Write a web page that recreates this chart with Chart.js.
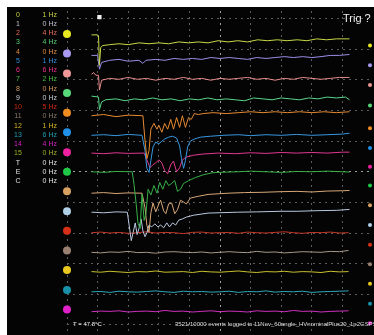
<!DOCTYPE html>
<html>
<head>
<meta charset="utf-8">
<script src="https://cdn.jsdelivr.net/npm/chart.js@4.4.0/dist/chart.umd.min.js"></script>
<style>
  body { margin: 0; background: #fff; width: 374px; height: 335px; overflow: hidden; position: relative;
         font-family: "Liberation Sans", Arial, sans-serif; }
  #scope { position: absolute; left: 7px; top: 7px; width: 367px; height: 328px; background: #040404; overflow: hidden; }
  #scope canvas { position: absolute; left: 0; top: 0; }
  .lbl { position: absolute; font-size: 7px; line-height: 8px; white-space: nowrap; }
  .num { left: 4px; width: 14px; text-align: center; }
  .hz { left: 30px; width: 20px; text-align: right; }
  #trig { position: absolute; left: 336px; top: 5px; color: #eee; font-size: 11px; }
  #temp { position: absolute; left: 66px; top: 314px; color: #eee; font-size: 6px; }
  #status { position: absolute; left: 168px; top: 314px; color: #ddd; font-size: 6px; white-space: nowrap; }
</style>
</head>
<body>
<div id="scope">
  <canvas id="scopeChart" width="367" height="328"></canvas>
  <div id="trig">Trig ?</div>
  <div id="temp">T = 47.8°C</div>
  <div id="status">3521/10000 events logged to 11Nov_60angle_HVnominalPlus20_1p2GSPS_10k</div>
</div>
<script>
// channel list on the left
const chanNames = ["0","1","2","3","4","5","6","7","8","9","10","11","12","13","14","15","T","E","C"];
const chanHz = ["1 Hz","0 Hz","4 Hz","4 Hz","0 Hz","1 Hz","6 Hz","2 Hz","0 Hz","0 Hz","5 Hz","0 Hz","1 Hz","6 Hz","4 Hz","0 Hz","0 Hz","0 Hz","0 Hz"];
const chanLabelColors = ["#c8d040","#c0c0cc","#e86a58","#50d070","#e08a40","#3090e0","#f03090","#40c040","#d09a60","#c8d0d8",
                         "#d02818","#8a7a6a","#d8b820","#20a0b0","#d020c0","#a0b020","#e0e0e0","#e0e0e0","#e0e0e0"];

// channel offsets on screen (mV, 100 mV per division)
const offsets = [450, 386, 321, 257, 193, 129, 64, 0, -64, -129, -193, -257, -321, -386, -450];
const traceColors = ["#c8d848","#9a90e8","#e88a8a","#58d888","#e88a30","#3898e0","#e03890","#38b048","#d8a878","#b8c8e0",
                     "#c83828","#a89888","#c8c030","#30a8b8","#d030c0"];
const circleColors = ["#e8e820","#a898f0","#f09898","#58d878","#f08c20","#2090e8","#f020a0","#20c848","#d8a060","#b0d0e8",
                      "#d83018","#9a8070","#e8c820","#1890a8","#e020c8"];
const levelMarks = [-38, -38, -38, -41, -51, -51, -48, -45, -45, -45, -45, -45, -45, -45, -45];

// grid divisions
const xTicks = [0, 100, 200, 300, 400, 500, 600, 700, 800, 900];
const yTicks = [-500, -400, -300, -200, -100, 0, 100, 200, 300, 400, 500];

// waveforms: [time ns, mV relative to channel offset]
const ch0 = [[80,-3],[100,-3],[103,-6],[106,-102],[110,-45],[116,-38],[139,-35],[170,-32],[200,-35],[235,-29],[268,-32],[300,-29],
  [332,-32],[365,-26],[397,-29],[429,-26],[461,-29],[494,-22],[526,-26],[558,-22],[590,-26],[623,-19],[655,-22],[687,-19],
  [719,-22],[752,-19],[784,-22],[816,-16],[848,-19],[881,-16],[923,-16]];
const ch1 = [[80,-6],[100,-6],[106,-51],[113,-29],[139,-22],[170,-19],[200,-25],[235,-22],[248,-32],[258,-22],[290,-19],[320,-22],
  [350,-16],[380,-19],[410,-16],[440,-19],[470,-13],[500,-16],[530,-13],[560,-16],[590,-19],[620,-13],[650,-16],[680,-13],
  [710,-10],[740,-13],[770,-10],[800,-13],[830,-10],[860,-6],[890,-6],[923,-3]];
const ch2 = [[80,-3],[87,3],[94,-6],[103,-6],[106,-54],[113,-22],[139,-16],[170,-19],[200,-13],[230,-19],[260,-16],[290,-22],
  [320,-16],[350,-19],[380,-13],[410,-19],[440,-16],[470,-22],[500,-16],[530,-19],[560,-16],[590,-13],[620,-19],[650,-16],
  [680,-22],[710,-16],[740,-19],[770,-13],[800,-16],[830,-19],[860,-16],[890,-13],[923,-13]];
const ch3 = [[80,-10],[103,-13],[106,-54],[113,-29],[126,-22],[160,-19],[190,-25],[220,-19],[250,-22],[280,-16],[310,-22],
  [340,-19],[370,-25],[400,-19],[430,-22],[460,-16],[490,-22],[520,-19],[550,-22],[580,-25],[610,-16],[640,-19],[670,-22],
  [700,-16],[730,-19],[760,-22],[790,-16],[820,-19],[850,-13],[880,-16],[910,-13],[923,-22]];
const ch4 = [[80,-10],[120,-6],[160,-13],[200,-8],[248,-10],[255,-92],[261,-150],[268,-124],[274,-54],[284,-35],[294,-54],
  [300,-41],[310,-64],[319,-35],[329,-54],[339,-22],[348,-54],[358,-16],[368,-48],[377,-10],[387,-48],[397,-16],[406,-22],
  [416,-3],[429,-6],[445,-3],[477,0],[520,-3],[560,0],[600,3],[640,0],[680,3],[720,0],[760,3],[800,0],[840,3],[880,0],[923,3]];
const ch5 = [[80,-10],[120,-8],[160,-11],[200,-7],[245,-10],[255,-60],[261,-118],[268,-131],[274,-92],[281,-48],[290,-32],
  [300,-38],[310,-29],[319,-22],[332,-16],[345,-13],[358,-19],[368,-45],[374,-86],[381,-118],[387,-92],[394,-48],[403,-29],
  [416,-22],[436,-16],[468,-13],[510,-10],[560,-8],[600,-11],[650,-8],[700,-10],[750,-7],[800,-10],[850,-8],[900,-6],[923,-3]];
const ch6 = [[80,-3],[120,-5],[160,-2],[200,-4],[252,-3],[261,-25],[271,-51],[281,-41],[290,-35],[300,-25],[310,-35],[319,-60],
  [329,-70],[339,-41],[348,-29],[358,-64],[368,-51],[377,-25],[390,-16],[413,-10],[445,-6],[494,-3],[550,-5],[600,-2],
  [650,-4],[700,-1],[750,-3],[800,-1],[850,-3],[900,0],[923,0]];
const ch7 = [[80,0],[120,-2],[160,1],[213,0],[219,-41],[226,-105],[232,-169],[239,-185],[245,-73],[252,-159],[258,-137],
  [265,-57],[274,-76],[284,-45],[294,-70],[303,-35],[313,-57],[323,-29],[332,-45],[342,-38],[352,-29],[361,-64],[371,-57],
  [381,-38],[397,-29],[419,-19],[445,-10],[477,-3],[520,-1],[558,0],[600,2],[650,0],[700,-2],[750,1],[800,0],[850,2],[900,0],[923,-1]];
const ch8 = [[80,-6],[120,-4],[160,-7],[200,-5],[245,-6],[255,-54],[261,-111],[268,-134],[274,-70],[281,-38],[290,-67],
  [300,-41],[306,-29],[316,-64],[323,-73],[332,-41],[342,-38],[352,-73],[361,-60],[371,-29],[381,-35],[390,-41],[403,-22],
  [429,-16],[461,-10],[526,-6],[580,-4],[640,-3],[700,-1],[752,0],[800,-2],[850,1],[900,2],[923,3]];
const ch9 = [[80,-3],[120,-5],[160,-2],[197,-3],[203,-45],[210,-96],[216,-70],[223,-38],[229,-76],[235,-57],[242,-25],
  [248,-64],[255,-83],[261,-70],[268,-45],[277,-51],[287,-41],[297,-51],[306,-45],[316,-54],[326,-38],[335,-51],[345,-38],
  [355,-45],[365,-29],[377,-25],[390,-19],[413,-13],[461,-6],[558,-3],[620,-2],[700,0],[752,0],[820,2],[880,3],[923,6]];

// quiet channels share one time grid
const tGrid = [80,110,140,170,200,230,260,290,320,350,380,410,440,470,500,530,560,590,620,650,680,710,740,770,800,830,860,890,920];
const ch10 = [-6,-4,-7,-5,-8,-6,-3,-7,-5,-6,-9,-5,-4,-7,-6,-5,-8,-4,-6,-7,-5,-3,-6,-8,-5,-6,-4,-7,-6];
const ch11 = [-6,-8,-5,-6,-3,-7,-6,-9,-5,-4,-6,-7,-5,-8,-6,-4,-6,-7,-3,-6,-5,-8,-6,-4,-5,-6,-3,-4,0];
const ch12 = [-5,-7,-4,-6,-8,-5,-6,-3,-7,-6,-5,-8,-4,-6,-7,-5,-3,-6,-8,-5,-6,-4,-7,-5,-6,-8,-4,-6,-5];
const ch13 = [-6,-5,-8,-4,-6,-7,-5,-3,-6,-8,-4,-6,-5,-7,-6,-4,-8,-5,-6,-3,-7,-5,-6,-4,-8,-6,-5,-4,-3];
const ch14 = [-7,-5,-6,-4,-8,-6,-5,-7,-3,-6,-5,-8,-6,-4,-7,-5,-6,-8,-4,-6,-5,-7,-3,-6,-5,-8,-6,-5,-4];

const trigTime = 106;   // ns
const trigMarkY = 505;  // mV, top of screen

// left panel labels
const scope = document.getElementById("scope");
chanNames.forEach((name, i) => {
  const top = 3.5 + i * 9.26;
  const n = document.createElement("div");
  n.className = "lbl num";
  n.style.top = top + "px";
  n.style.color = chanLabelColors[i];
  n.textContent = name;
  scope.appendChild(n);
  const h = document.createElement("div");
  h.className = "lbl hz";
  h.style.top = top + "px";
  h.style.color = chanLabelColors[i];
  h.textContent = chanHz[i];
  scope.appendChild(h);
});

const pairTraces = [ch0, ch1, ch2, ch3, ch4, ch5, ch6, ch7, ch8, ch9];
const gridTraces = [ch10, ch11, ch12, ch13, ch14].map(vals => tGrid.map((t, k) => [t, vals[k]]));
const allTraces = pairTraces.concat(gridTraces);

const datasets = allTraces.map((pts, i) => ({
  data: pts.map(p => ({ x: p[0], y: offsets[i] + p[1] })),
  borderColor: traceColors[i],
  borderWidth: 1,
  pointRadius: 0,
  tension: 0,
  order: 1
}));

// channel circles on the left axis
datasets.push({
  data: offsets.map(o => ({ x: 0, y: o })),
  showLine: false,
  pointRadius: 4,
  pointBorderWidth: 0,
  pointBackgroundColor: circleColors,
  clip: false,
  order: 0
});
// level marks on the right edge
datasets.push({
  data: offsets.map((o, i) => ({ x: 990, y: o + levelMarks[i] })),
  showLine: false,
  pointRadius: 2,
  pointBorderWidth: 0,
  pointBackgroundColor: circleColors,
  clip: false,
  order: 0
});
// trigger position marker
datasets.push({
  data: [{ x: trigTime, y: trigMarkY }],
  showLine: false,
  pointStyle: "rect",
  pointRadius: 3,
  pointBorderWidth: 0,
  pointBackgroundColor: "#f0f0f0",
  clip: false,
  order: 0
});

function gridColor(center) {
  return ctx => (ctx.tick.value === center ? "#a0a0a0" : "#5c5c5c");
}

const chart = new Chart(document.getElementById("scopeChart"), {
  type: "line",
  data: { datasets },
  options: {
    responsive: false,
    animation: false,
    layout: { padding: { left: 60, top: 0, right: 0, bottom: 0 } },
    plugins: { legend: { display: false }, tooltip: { enabled: false } },
    scales: {
      x: {
        type: "linear", min: 0, max: 990,
        afterBuildTicks: s => { s.ticks = xTicks.map(v => ({ value: v })); },
        ticks: { display: false },
        grid: { color: gridColor(500), drawTicks: false, lineWidth: 1 },
        border: { display: false, dash: [2, 4] }
      },
      y: {
        type: "linear", min: -520, max: 525,
        afterBuildTicks: s => { s.ticks = yTicks.map(v => ({ value: v })); },
        ticks: { display: false },
        grid: { color: gridColor(0), drawTicks: false, lineWidth: 1 },
        border: { display: false, dash: [2, 4] }
      }
    }
  }
});
</script>
</body>
</html>
